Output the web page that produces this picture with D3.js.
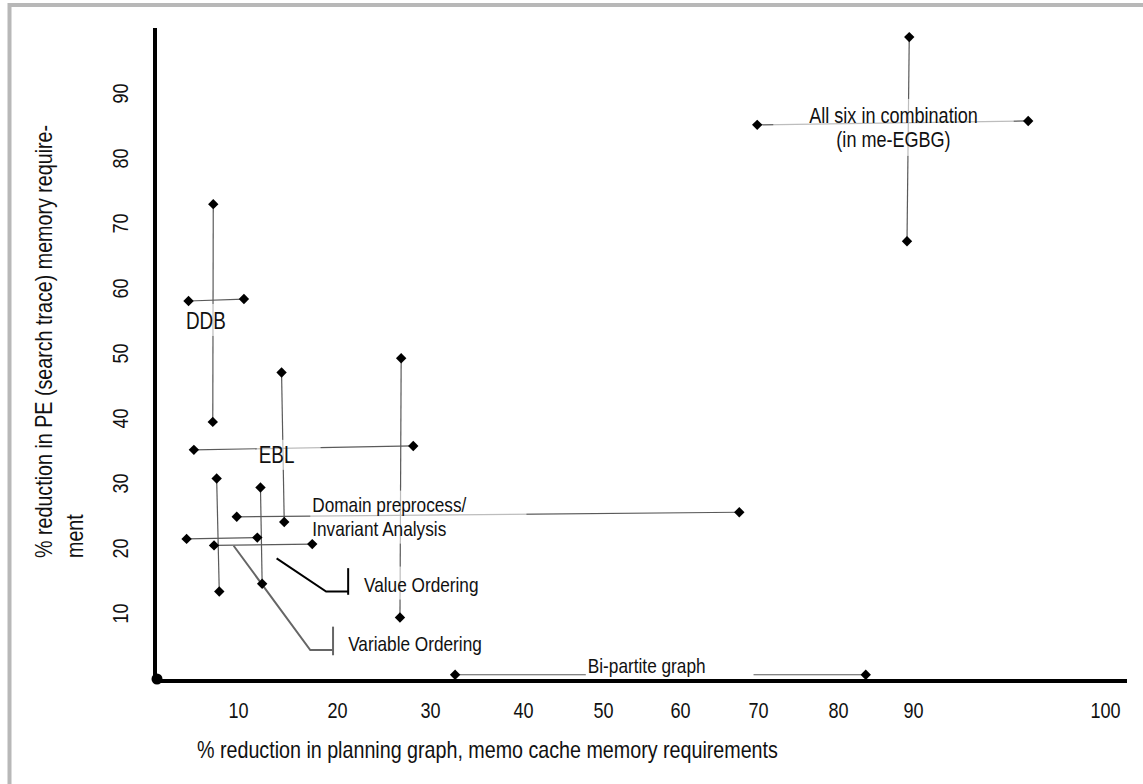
<!DOCTYPE html>
<html>
<head>
<meta charset="utf-8">
<script src="https://cdn.jsdelivr.net/npm/d3@7"></script>
<style>
  html, body { margin: 0; padding: 0; background: #fff; }
  svg { display: block; }
  text { font-family: "Liberation Sans", Arial, sans-serif; fill: #111; }
</style>
</head>
<body>
<svg id="chart" width="1143" height="784"></svg>
<script>
const xTicks = [10, 20, 30, 40, 50, 60, 70, 80, 90, 100];
const yTicks = [10, 20, 30, 40, 50, 60, 70, 80, 90];

// the printed x labels are not evenly spaced, so the scale follows them
const xTickPx = [238, 337, 430, 523, 603, 680, 758, 838, 913, 1105];

// every measurement is a pair of diamonds joined by a thin line
const pairNames = ['allSixH', 'allSixV', 'ddbV', 'ddbH', 'eblH', 'domainV', 'bigV',
                   'domainH', 'smallV1', 'smallV2', 'shortH1', 'shortH2', 'bipartiteH'];
const xFrom = [69.9, 89.5, 7.45, 4.9, 5.45, 14.4, 26.9, 9.87, 7.8, 12.27, 4.7, 7.53, 32.7];
const yFrom = [85.1, 98.6, 72.9, 58.0, 35.1, 47.0, 49.2, 24.8, 30.7, 29.3, 21.4, 20.4, 0.5];
const xTo   = [96.0, 89.2, 7.4, 10.6, 28.2, 14.67, 26.77, 67.6, 8.07, 12.44, 11.95, 17.5, 83.7];
const yTo   = [85.7, 67.2, 39.4, 58.3, 35.7, 24.0, 9.3, 25.5, 13.3, 14.5, 21.6, 20.6, 0.5];

// annotation texts and where they sit, in data units
const labelNames = ['allSix', 'ddb', 'ebl', 'domain', 'valueOrd', 'variableOrd', 'bipartite'];
const labelLines = [
  ['All six in combination', '(in me-EGBG)'],
  ['DDB'],
  ['EBL'],
  ['Domain  preprocess/', 'Invariant Analysis'],
  ['Value Ordering'],
  ['Variable Ordering'],
  ['Bi-partite graph']
];
const labelX = [87.4, 4.64, 12.1, 17.5, 22.9, 21.2, 48.1];
const labelY = [85.4, 53.7, 33.1, 25.6, 13.3, 4.15, 0.8];

// leader lines for the two ordering labels
const valueLeader = [[13.9, 18.4], [18.9, 13.3], [21.2, 13.3]];
const valueBar = [[21.2, 16.9], [21.2, 12.8]];
const variableLeader = [[9.55, 20.35], [17.3, 4.3], [19.6, 4.3]];
const variableBar = [[19.6, 7.9], [19.6, 3.5]];

const yTitleLines = ['% reduction in PE (search trace) memory require-', 'ment'];
const xTitle = '% reduction in planning graph, memo cache memory requirements';

const svg = d3.select('#chart');

const x = d3.scaleLinear().domain([0, ...xTicks]).range([141, ...xTickPx]);
const y = d3.scaleLinear().domain([0, 100]).range([678, 28]);

const axisX = 155, axisY = 681;

// squeeze the installed sans into an "Arial Narrow" look
function narrow(sel, k = 0.82) {
  sel.each(function () {
    const w = this.getComputedTextLength();
    d3.select(this).attr('textLength', w * k).attr('lengthAdjust', 'spacingAndGlyphs');
  });
}

// light grey frame round the figure
svg.append('line').attr('x1', 8).attr('x2', 1143).attr('y1', 5).attr('y2', 5)
  .attr('stroke', '#b8b8b8').attr('stroke-width', 4);
svg.append('line').attr('x1', 9.5).attr('x2', 9.5).attr('y1', 3).attr('y2', 784)
  .attr('stroke', '#b8b8b8').attr('stroke-width', 4);

// axes
const xAxis = d3.axisBottom(x).tickValues(xTicks).tickSize(0).tickPadding(21);
svg.append('g')
  .attr('class', 'x axis')
  .attr('transform', `translate(0,${axisY})`)
  .call(xAxis)
  .call(g => g.select('.domain').remove())
  .selectAll('text')
  .attr('font-size', 22)
  .call(narrow);

const yAxis = d3.axisLeft(y).tickValues(yTicks).tickSize(0);
svg.append('g')
  .attr('class', 'y axis')
  .attr('transform', `translate(${axisX},0)`)
  .call(yAxis)
  .call(g => g.select('.domain').remove())
  .selectAll('text')
  .attr('x', null).attr('dy', null)
  .attr('text-anchor', 'middle')
  .attr('font-size', 22)
  .attr('transform', 'translate(-27,0) rotate(-90)')
  .call(narrow);

svg.selectAll('.axis').attr('font-family', null);

// stray "100" label that peeks out at the origin
svg.append('clipPath').attr('id', 'peek')
  .append('rect').attr('x', 136).attr('y', 640).attr('width', 12).attr('height', 40);
svg.append('text')
  .attr('clip-path', 'url(#peek)')
  .attr('transform', `translate(143,${y(2)}) rotate(-90)`)
  .attr('text-anchor', 'middle')
  .attr('font-size', 22)
  .text('100')
  .call(narrow);

svg.append('line')
  .attr('x1', axisX).attr('x2', axisX).attr('y1', y(100)).attr('y2', axisY)
  .attr('stroke', '#000').attr('stroke-width', 4);
svg.append('line')
  .attr('x1', axisX).attr('x2', 1127).attr('y1', axisY).attr('y2', axisY)
  .attr('stroke', '#000').attr('stroke-width', 4);
svg.append('circle').attr('cx', axisX + 2).attr('cy', axisY - 2).attr('r', 5.5).attr('fill', '#000');

// axis titles
svg.append('text')
  .attr('x', 197).attr('y', 758)
  .attr('font-size', 24)
  .text(xTitle)
  .call(narrow);

svg.selectAll('.y-title')
  .data(yTitleLines)
  .enter()
  .append('text')
  .attr('class', 'y-title')
  .attr('transform', (d, i) => `translate(${52 + i * 31},558) rotate(-90)`)
  .attr('font-size', 24)
  .text(d => d)
  .call(narrow);

// connecting lines
const pairs = pairNames.map((name, i) => ({
  name, x1: xFrom[i], y1: yFrom[i], x2: xTo[i], y2: yTo[i]
}));

svg.append('g').selectAll('line')
  .data(pairs)
  .enter()
  .append('line')
  .attr('x1', d => x(d.x1)).attr('y1', d => y(d.y1))
  .attr('x2', d => x(d.x2)).attr('y2', d => y(d.y2))
  .attr('stroke', '#5a5a5a')
  .attr('stroke-width', 1.2);

// leader lines
const lineGen = d3.line().x(d => x(d[0])).y(d => y(d[1]));
svg.append('path').attr('d', lineGen(valueLeader))
  .attr('fill', 'none').attr('stroke', '#000').attr('stroke-width', 2);
svg.append('path').attr('d', lineGen(valueBar))
  .attr('fill', 'none').attr('stroke', '#000').attr('stroke-width', 2);
svg.append('path').attr('d', lineGen(variableLeader))
  .attr('fill', 'none').attr('stroke', '#666').attr('stroke-width', 2);
svg.append('path').attr('d', lineGen(variableBar))
  .attr('fill', 'none').attr('stroke', '#666').attr('stroke-width', 2);

// annotation labels with washed-out white boxes behind them
const labelSize = { allSix: 22, ddb: 23, ebl: 23, domain: 21, valueOrd: 21, variableOrd: 21, bipartite: 21 };
const labelAnchor = { allSix: 'middle' };
const lineStep = { allSix: 24, domain: 24 };
const boxPad = {
  allSix: [36, 36, 4, 4], ddb: [2, 20, 4, 2], ebl: [2, 26, 2, 2], domain: [2, 60, 2, 4],
  valueOrd: [4, 38, 6, 4], variableOrd: [4, 96, 4, 4], bipartite: [2, 48, 4, 1]
};
const boxOpacity = { bipartite: 1 };

const labelG = svg.append('g');
labelNames.forEach((name, i) => {
  const g = labelG.append('g');
  const box = g.append('rect');
  const texts = labelLines[i].map((line, j) => g.append('text')
    .attr('font-size', labelSize[name])
    .attr('text-anchor', labelAnchor[name] || 'start')
    .attr('x', x(labelX[i]))
    .attr('y', y(labelY[i]) + j * (lineStep[name] || 0))
    .text(line)
    .call(narrow));
  const bbs = texts.map(t => t.node().getBBox());
  const x0 = d3.min(bbs, b => b.x), x1 = d3.max(bbs, b => b.x + b.width);
  const y0 = d3.min(bbs, b => b.y), y1 = d3.max(bbs, b => b.y + b.height);
  const [pl, pr, pt, pb] = boxPad[name];
  box.attr('x', x0 - pl).attr('y', y0 - pt)
    .attr('width', x1 - x0 + pl + pr).attr('height', y1 - y0 + pt + pb)
    .attr('fill', '#fff')
    .attr('fill-opacity', boxOpacity[name] || 0.6);
});

// diamonds on top
const points = pairs.flatMap(d => [{ x: d.x1, y: d.y1 }, { x: d.x2, y: d.y2 }]);
svg.append('g').selectAll('path')
  .data(points)
  .enter()
  .append('path')
  .attr('d', d3.symbol(d3.symbolSquare, 54))
  .attr('transform', d => `translate(${x(d.x)},${y(d.y)}) rotate(45)`)
  .attr('fill', '#000');
</script>
</body>
</html>
